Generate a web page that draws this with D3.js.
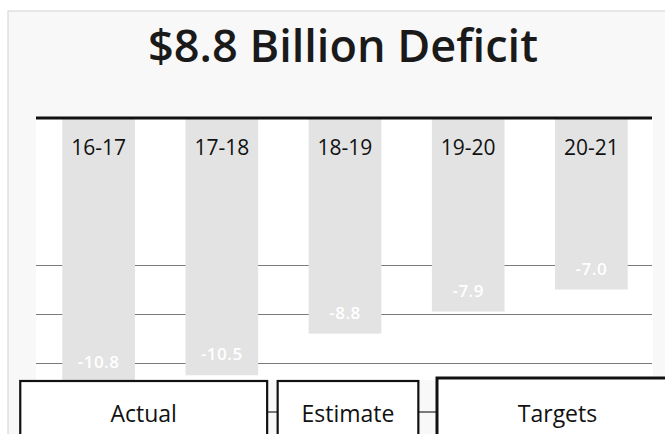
<!DOCTYPE html>
<html>
<head>
<meta charset="utf-8">
<script src="https://cdn.jsdelivr.net/npm/d3@7"></script>
<style>
  html, body { margin: 0; padding: 0; background: #ffffff; }
  svg { display: block; }
</style>
</head>
<body>
<svg id="chart" width="665" height="434"></svg>
<script>
// ---- data ----
const title = "$8.8 Billion Deficit";
const categories = ["16-17", "17-18", "18-19", "19-20", "20-21"];
const deficits = [-10.8, -10.5, -8.8, -7.9, -7.0];
const valueLabels = ["-10.8", "-10.5", "-8.8", "-7.9", "-7.0"];
const gridTicks = [-6, -8, -10];
const groupNames = ["Actual", "Estimate", "Targets"];
const groupFirst = ["16-17", "18-19", "19-20"];
const groupLast = ["17-18", "18-19", "20-21"];

// ---- layout ----
const W = 665, H = 434;
const plotLeft = 37, plotRight = 653, zeroY = 118;
const svg = d3.select("#chart");

// panel
svg.append("rect").attr("x", 8).attr("y", 11).attr("width", W).attr("height", H)
  .attr("fill", "#f8f8f8").attr("stroke", "#d9d9d9").attr("stroke-width", 1.2);
svg.append("rect").attr("x", plotLeft - 1).attr("y", zeroY).attr("width", plotRight - plotLeft + 1).attr("height", 262)
  .attr("fill", "#ffffff");

const x = d3.scaleBand().domain(categories).range([plotLeft, plotRight])
  .paddingInner(0.41).paddingOuter(0.205);
const y = d3.scaleLinear().domain([0, -6]).range([zeroY, zeroY + 6 * 24.5]);

// gridlines via axis
const grid = svg.append("g").attr("transform", `translate(${plotLeft - 1},0)`)
  .call(d3.axisRight(y).tickValues(gridTicks).tickSize(plotRight - plotLeft).tickFormat(""));
grid.select(".domain").remove();
grid.selectAll(".tick line").attr("stroke", "#7a7a7a").attr("stroke-width", 1.2);

// bars
svg.append("g").selectAll("rect").data(deficits).join("rect")
  .attr("x", (d, i) => x(categories[i]))
  .attr("y", y(0))
  .attr("width", x.bandwidth())
  .attr("height", d => y(d) - y(0))
  .attr("fill", "#e3e3e3");

// value labels
svg.append("g").selectAll("text").data(deficits).join("text")
  .attr("x", (d, i) => x(categories[i]) + x.bandwidth() / 2)
  .attr("y", d => Math.min(y(d), 383) - 15)
  .attr("text-anchor", "middle")
  .attr("font-family", "'Open Sans', sans-serif")
  .attr("font-size", 17).attr("font-weight", 600)
  .attr("letter-spacing", 0.5)
  .attr("fill", "#ffffff")
  .text((d, i) => valueLabels[i]);

// category labels
svg.append("g").selectAll("text").data(categories).join("text")
  .attr("x", d => x(d) + x.bandwidth() / 2)
  .attr("y", 155)
  .attr("text-anchor", "middle")
  .attr("font-family", "'Open Sans', sans-serif")
  .attr("font-size", 21)
  .attr("fill", "#111")
  .text(d => d);

// top rule
svg.append("line").attr("x1", plotLeft - 1).attr("x2", plotRight - 1).attr("y1", zeroY).attr("y2", zeroY)
  .attr("stroke", "#111").attr("stroke-width", 3);

// title
svg.append("text").attr("x", 343).attr("y", 62).attr("text-anchor", "middle")
  .attr("font-family", "'Open Sans', sans-serif").attr("font-size", 45).attr("font-weight", 600)
  .attr("fill", "#1a1a1a")
  .attr("textLength", 390).attr("lengthAdjust", "spacingAndGlyphs")
  .text(title);

// group boxes
const boxPadL = [42, 31, 0], boxPadR = [9, 37, 60];
const boxTop = [381, 381, 378];
const groups = groupNames.map((g, i) => ({
  name: g,
  x0: i === 2 ? 437 : x(groupFirst[i]) - boxPadL[i],
  x1: x(groupLast[i]) + x.bandwidth() + boxPadR[i],
  top: boxTop[i]
}));
// connectors
for (let i = 0; i < groups.length - 1; i++) {
  svg.append("line").attr("x1", groups[i].x1).attr("x2", groups[i + 1].x0)
    .attr("y1", 412).attr("y2", 412).attr("stroke", "#333").attr("stroke-width", 1.3);
}
const gb = svg.append("g").selectAll("g").data(groups).join("g");
gb.append("rect")
  .attr("x", d => d.x0).attr("y", d => d.top)
  .attr("width", d => d.x1 - d.x0).attr("height", 80)
  .attr("fill", "#ffffff").attr("stroke", "#111").attr("stroke-width", (d, i) => i === 2 ? 3 : 2.2);
gb.append("text")
  .attr("x", d => (d.x0 + Math.min(d.x1, 678)) / 2)
  .attr("y", 422)
  .attr("text-anchor", "middle")
  .attr("font-family", "'Open Sans', sans-serif")
  .attr("font-size", 23)
  .attr("fill", "#111")
  .text(d => d.name);
</script>
</body>
</html>
